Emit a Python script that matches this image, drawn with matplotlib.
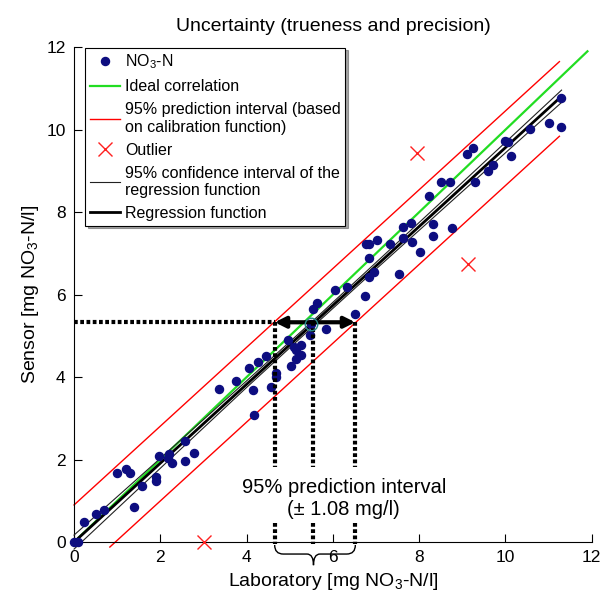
import matplotlib
matplotlib.use("Agg")
import matplotlib.pyplot as plt
from matplotlib.path import Path
from matplotlib.patches import PathPatch

plt.rcParams['font.family'] = ['Liberation Sans', 'DejaVu Sans']
plt.rcParams['mathtext.fontset'] = 'custom'
plt.rcParams['mathtext.rm'] = 'Liberation Sans'

# Measured values (laboratory vs sensor), mg NO3-N/l
lab = [0.0, 0.1, 0.23, 0.5, 0.69, 1.0, 1.2, 1.29, 1.38, 1.57, 1.89, 1.89, 1.98, 2.17,
       2.21, 2.28, 2.58, 2.58, 2.79, 3.36, 3.75, 4.05, 4.15, 4.17, 4.26, 4.45, 4.56,
       4.67, 4.69, 4.95, 5.04, 5.09, 5.14, 5.14, 5.25, 5.25, 5.46, 5.5, 5.55, 5.64,
       5.83, 6.06, 6.33, 6.52, 6.75, 6.84, 6.95, 6.84, 6.77, 6.84, 7.02, 7.32, 7.53,
       7.62, 7.62, 7.81, 7.83, 8.01, 8.22, 8.31, 8.31, 8.5, 8.71, 8.75, 9.1, 9.24,
       9.3, 9.6, 9.72, 10.0, 10.06, 10.13, 10.57, 11.0, 11.28, 11.28]
sensor = [0.0, 0.0, 0.48, 0.68, 0.78, 1.67, 1.77, 1.67, 0.85, 1.36, 1.58, 1.48, 2.09, 2.04,
          2.13, 1.92, 1.96, 2.45, 2.16, 3.71, 3.90, 4.22, 3.68, 3.08, 4.36, 4.51, 3.76,
          4.10, 4.0, 4.90, 4.27, 4.73, 4.65, 4.44, 4.53, 4.78, 5.02, 5.28, 5.65, 5.80,
          5.16, 6.11, 6.18, 5.53, 5.96, 6.42, 6.55, 6.88, 7.22, 7.22, 7.32, 7.22, 6.50,
          7.64, 7.37, 7.73, 7.27, 7.03, 8.39, 7.71, 7.42, 8.73, 8.73, 7.61, 9.41, 9.55,
          8.73, 8.99, 9.14, 9.72, 9.70, 9.36, 10.01, 10.16, 10.76, 10.06]

outlier_lab = [7.95, 9.12, 3.02]
outlier_sensor = [9.43, 6.74, 0.0]

ideal_x = [0.0, 11.9]
ideal_y = [0.0, 11.9]

reg_x = [0.0, 11.3]
reg_y = [0.0, 10.81]

ci_x = [0.0, 2.0, 4.0, 5.5, 7.0, 9.0, 11.3]
ci_upper = [0.17, 2.03, 3.91, 5.33, 6.78, 8.72, 10.96]
ci_lower = [-0.17, 1.79, 3.75, 5.19, 6.62, 8.50, 10.66]

pi_upper_x = [0.0, 11.25]
pi_upper_y = [0.9, 11.65]
pi_lower_x = [0.83, 11.25]
pi_lower_y = [-0.12, 9.84]

# prediction interval read-off example
read_y = 5.33
read_lo, read_mid, read_hi = 4.65, 5.55, 6.52

fig = plt.figure(figsize=(6.02, 6.05), dpi=100)
ax = fig.add_axes([0.123, 0.104, 0.86, 0.818])

ax.plot(pi_upper_x, pi_upper_y, color='#ff0000', lw=1, clip_on=False,
        label='95% prediction interval (based\non calibration function)', zorder=2)
ax.plot(pi_lower_x, pi_lower_y, color='#ff0000', lw=1, clip_on=False, zorder=2)
ax.plot(ideal_x, ideal_y, color='#22dd22', lw=1.6, label='Ideal correlation', zorder=3)
ax.plot(ci_x, ci_upper, color='#222222', lw=0.8, clip_on=False,
        label='95% confidence interval of the\nregression function', zorder=3)
ax.plot(ci_x, ci_lower, color='#222222', lw=0.8, clip_on=False, zorder=3)
ax.plot(reg_x, reg_y, color='black', lw=2, label='Regression function', zorder=3)
ax.plot(lab, sensor, 'o', color='#0d0d80', ms=5.8, ls='none', clip_on=False,
        label='NO$_3$-N', zorder=4)
ax.plot(outlier_lab, outlier_sensor, 'x', color='#ff2020', ms=10, mew=1, ls='none',
        clip_on=False, label='Outlier', zorder=4)

# dotted guide lines
dot = (0, (0.9, 0.6))
ax.plot([0, read_lo], [read_y, read_y], color='black', lw=3, ls=dot,
        dash_capstyle='butt', zorder=5)
for xv in (read_lo, read_mid, read_hi):
    ax.plot([xv, xv], [read_y, 1.82], color='black', lw=3, ls=dot,
            dash_capstyle='butt', zorder=5)
    ax.plot([xv, xv], [0.46, -0.05], color='black', lw=3, ls=dot,
            dash_capstyle='butt', zorder=5, clip_on=False)
ax.annotate('', xy=(read_lo, read_y), xytext=(read_hi, read_y),
            arrowprops=dict(arrowstyle='<|-|>', lw=3, color='black',
                            mutation_scale=16, shrinkA=0, shrinkB=0), zorder=6)
ax.plot([5.5], [5.28], 'o', ms=9, mfc='none', mec='#2a8c8c', mew=1, zorder=6)

# curly brace under the interval
by0, by1, by2 = -0.07, -0.29, -0.56
verts = [(read_lo, by0), (read_lo, by1), (read_lo + 0.2, by1),
         (read_mid - 0.15, by1), (read_mid, by1), (read_mid, by2),
         (read_mid, by1), (read_mid + 0.15, by1),
         (read_hi - 0.2, by1), (read_hi, by1), (read_hi, by0)]
codes = [Path.MOVETO, Path.CURVE3, Path.CURVE3, Path.LINETO, Path.CURVE3, Path.CURVE3,
         Path.CURVE3, Path.CURVE3, Path.LINETO, Path.CURVE3, Path.CURVE3]
ax.add_patch(PathPatch(Path(verts, codes), fc='none', ec='black', lw=1, clip_on=False))

ax.text(6.25, 1.33, '95% prediction interval', ha='center', va='center', fontsize=14.5,
        bbox=dict(fc='white', ec='none', pad=1))
ax.text(6.25, 0.78, '(± 1.08 mg/l)', ha='center', va='center', fontsize=14.5)

ax.set_xlim(0, 12)
ax.set_ylim(0, 12)
ax.set_xticks(range(0, 13, 2))
ax.set_yticks(range(0, 13, 2))
ax.tick_params(direction='in', length=6, labelsize=12.5, pad=6)
for s in ('top', 'right'):
    ax.spines[s].set_visible(False)
ax.set_xlabel('Laboratory [mg NO$_3$-N/l]', fontsize=14, labelpad=4)
ax.set_ylabel('Sensor [mg NO$_3$-N/l]', fontsize=14, labelpad=4)
ax.set_title('Uncertainty (trueness and precision)', fontsize=14, pad=12)

h, l = ax.get_legend_handles_labels()
order = [l.index(k) for k in ['NO$_3$-N', 'Ideal correlation',
                              '95% prediction interval (based\non calibration function)',
                              'Outlier',
                              '95% confidence interval of the\nregression function',
                              'Regression function']]
leg = ax.legend([h[i] for i in order], [l[i] for i in order], loc='upper left',
                bbox_to_anchor=(0.021, 0.999), borderaxespad=0, fontsize=11.5,
                frameon=True, fancybox=False, shadow=True, edgecolor='black',
                handlelength=1.9, handletextpad=0.3, labelspacing=0.5,
                borderpad=0.3)
leg.get_frame().set_linewidth(0.8)

fig.savefig('out.png', dpi=100)
